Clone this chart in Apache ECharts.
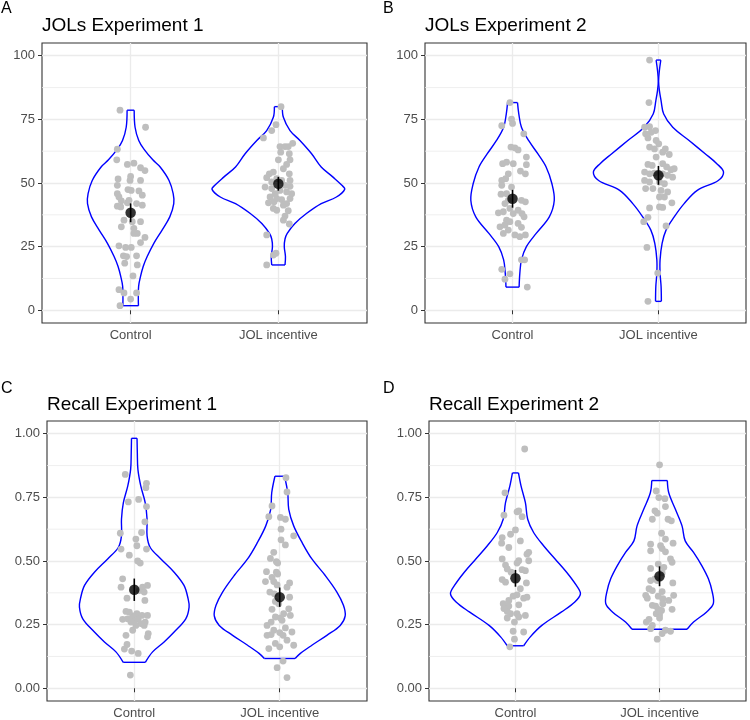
<!DOCTYPE html>
<html><head><meta charset="utf-8">
<script src="https://cdn.jsdelivr.net/npm/echarts@6/dist/echarts.min.js"></script>
<style>html,body{margin:0;padding:0;background:#fff}#c{width:750px;height:720px}</style>
</head><body><div id="c"></div>
<script>
// ---------- labels / ticks ----------
const categories = ['Control', 'JOL incentive'];
const panelLetters = ['A', 'B', 'C', 'D'];
const panelTitles = ['JOLs Experiment 1', 'JOLs Experiment 2', 'Recall Experiment 1', 'Recall Experiment 2'];
const jolTicks = [0, 25, 50, 75, 100];
const jolMinor = [12.5, 37.5, 62.5, 87.5];
const recallTicks = [0, 0.25, 0.5, 0.75, 1];
const recallMinor = [0.125, 0.375, 0.625, 0.875];

// ---------- individual observations (value) and horizontal jitter (category units) ----------
const aControlValues = [78.6,71.9,63.3,59.1,57.3,57.8,56.0,54.9,51.6,52.6,51.0,51.0,49.1,45.8,44.5,47.4,47.1,46.9,45.2,43.0,43.2,40.9,40.6,42.2,41.9,41.3,35.4,32.8,34.8,34.8,32.2,30.2,30.2,28.6,26.6,25.3,24.7,24.7,21.4,21.1,21.4,18.5,17.8,13.5,8.1,6.8,6.8,4.4,1.8];
const aControlJitter = [-0.072,0.101,-0.090,-0.094,-0.022,0.022,0.067,0.097,-0.085,0,-0.004,0.067,-0.090,-0.090,-0.079,-0.018,0.004,0.056,0.079,-0.063,-0.011,-0.090,-0.067,-0.022,0.040,0.079,-0.045,-0.063,0.011,0.067,0.022,0.045,0.022,0.097,0.067,-0.079,-0.034,0.004,-0.049,-0.027,0.040,-0.040,0.045,0.016,-0.079,-0.045,0.040,0,-0.072];
const aJolValues = [80.0,72.9,70.6,67.7,65.6,64.3,64.3,64.3,61.5,62.1,59.1,59.1,57.3,55.6,54.3,53.6,53.6,52.1,51.7,51.0,49.1,48.4,47.8,48.7,47.1,46.5,45.8,44.5,43.5,43.9,42.2,43.9,40.0,39.3,39.1,37.0,35.4,33.9,29.6,22.4,21.7,17.8,50.4,51.0,45.8,41.9,41.3,42.6];
const aJolJitter = [0.018,-0.016,-0.045,-0.101,0.097,0.011,0.045,0.067,0.074,0.016,0.079,0,0.056,0.034,-0.034,-0.061,0.074,-0.079,-0.011,0.079,0.045,-0.090,-0.045,0.079,0.011,0.056,0.090,-0.056,0.022,-0.011,-0.067,0.079,-0.034,-0.011,0.067,0.045,0.034,0.074,-0.079,-0.016,-0.034,-0.079,-0.045,0.022,-0.022,0.056,0.034,-0.029];
const bControlValues = [81.6,75.1,73.4,72.5,69.3,64.1,63.8,63.0,60.2,57.6,58.2,57.6,57.2,54.7,53.6,53.6,51.0,51.7,49.1,48.4,45.6,45.8,43.2,41.9,43.2,42.6,38.3,38.7,40.0,38.0,39.3,38.0,36.7,35.4,34.8,32.8,33.5,34.1,32.6,31.5,30.2,29.6,28.9,29.6,19.8,19.8,16.1,14.3,12.2,9.1];
const bControlJitter = [-0.018,-0.007,0,-0.074,0.077,-0.011,0.016,0.038,0.095,-0.068,-0.041,0.005,0.095,0.054,0.088,-0.029,-0.074,-0.047,-0.074,-0.007,-0.079,-0.041,-0.029,-0.052,0.061,0.088,-0.097,-0.063,-0.018,0.005,0.038,0.065,0.079,-0.041,-0.018,-0.086,-0.052,0.038,0.061,-0.029,-0.063,0.016,0.050,0.088,0.061,0.083,-0.074,-0.018,-0.052,0.101];
const bJolValues = [98.3,81.6,71.9,72.1,70.6,69.9,69.3,67.7,66.7,65.4,64.1,63.4,63.4,62.1,60.2,61.2,57.6,56.3,57.3,56.9,55.2,55.6,54.3,53.6,53.9,53.6,53.0,52.3,51.0,50.4,50.4,49.7,47.8,47.8,47.1,46.5,44.5,44.5,42.2,40.6,40.4,40.2,34.8,36.5,33.1,24.7,14.6,3.5];
const bJolJitter = [-0.061,-0.065,-0.095,-0.061,-0.020,-0.050,-0.088,-0.072,-0.016,0.002,-0.061,-0.027,0.047,0.029,-0.016,0.074,0.029,0.056,-0.072,-0.043,0.086,0.108,-0.095,-0.061,-0.027,0.029,0.063,0.097,-0.095,-0.061,0.007,0.041,-0.088,-0.038,0.018,0.063,0.007,0.041,0.092,0.007,0.029,-0.061,-0.101,-0.072,0.052,-0.079,-0.005,-0.072];
const cControlValues = [0.840,0.805,0.788,0.732,0.742,0.714,0.654,0.612,0.609,0.586,0.560,0.547,0.547,0.523,0.500,0.492,0.430,0.404,0.397,0.397,0.384,0.378,0.354,0.345,0.302,0.293,0.286,0.284,0.286,0.271,0.273,0.267,0.271,0.260,0.254,0.247,0.228,0.215,0.202,0.208,0.172,0.154,0.146,0.137,0.052,0.260,0.247,0.299];
const cControlJitter = [-0.062,0.084,0.080,-0.041,0.030,0.084,0.073,0.050,-0.096,0.011,0.018,-0.091,0.084,-0.034,0.023,0.041,-0.080,0.091,0.057,-0.091,0.034,0.068,-0.050,0.073,-0.057,0.018,0.053,-0.011,0.091,-0.080,-0.046,0,0.027,0.075,0.046,0.068,-0.011,0.096,0.091,-0.057,-0.050,-0.068,-0.018,0.027,-0.027,-0.023,0.011,-0.034];
const cJolValues = [0.827,0.771,0.716,0.674,0.671,0.664,0.625,0.599,0.563,0.583,0.534,0.510,0.497,0.492,0.458,0.456,0.449,0.436,0.419,0.419,0.414,0.397,0.406,0.378,0.371,0.358,0.341,0.332,0.310,0.312,0.293,0.286,0.280,0.276,0.247,0.260,0.267,0.237,0.228,0.219,0.208,0.211,0.208,0.221,0.189,0.169,0.176,0.163,0.156,0.107,0.081,0.042];
const cJolJitter = [0.043,0.050,-0.053,-0.075,0.005,0.039,0.009,0.096,0.039,0.009,-0.041,-0.064,-0.023,-0.014,-0.091,-0.023,-0.014,-0.053,-0.041,-0.098,0.068,0.050,-0.018,-0.068,-0.037,0.068,-0.030,-0.007,-0.053,0.062,0.027,0.073,-0.030,0.005,-0.087,-0.059,0.016,0.039,-0.041,0,-0.087,-0.059,0.023,0.084,0.050,0.096,-0.030,0,-0.075,0.023,-0.018,0.050];
const dControlValues = [0.940,0.768,0.680,0.697,0.693,0.674,0.622,0.605,0.592,0.579,0.570,0.553,0.534,0.527,0.508,0.501,0.492,0.501,0.484,0.469,0.466,0.462,0.456,0.414,0.427,0.417,0.391,0.367,0.362,0.354,0.358,0.345,0.332,0.326,0.323,0.328,0.313,0.302,0.293,0.293,0.280,0.276,0.286,0.260,0.224,0.221,0.193,0.163];
const dControlJitter = [0.064,-0.073,-0.080,0.023,0.011,0.046,0,-0.034,-0.092,0.034,-0.096,-0.046,0.092,0.080,-0.092,0.023,0.011,0.092,-0.069,-0.057,0.046,0.069,-0.030,0.076,-0.092,-0.069,0.034,0.011,-0.016,0.057,0.080,-0.046,-0.085,-0.069,-0.046,0.023,-0.080,-0.057,0.011,-0.034,0.023,-0.057,0.069,-0.007,-0.016,0.057,-0.007,-0.039];
const dJolValues = [0.878,0.775,0.749,0.745,0.714,0.697,0.688,0.664,0.664,0.658,0.609,0.586,0.570,0.566,0.560,0.549,0.540,0.536,0.508,0.495,0.488,0.471,0.475,0.453,0.430,0.423,0.423,0.414,0.391,0.384,0.380,0.365,0.354,0.365,0.362,0.352,0.345,0.326,0.323,0.332,0.310,0.306,0.310,0.293,0.289,0.271,0.260,0.276,0.247,0.234,0.228,0.224,0.215,0.193];
const dJolJitter = [0,-0.023,-0.005,0.037,0.041,-0.032,-0.016,-0.050,0.059,0.082,0.014,0.041,0.094,-0.062,0.007,0.018,-0.062,0.041,0.076,0.087,-0.009,-0.062,0.030,0.018,-0.032,-0.016,-0.062,0.092,-0.073,-0.050,0.018,-0.096,-0.085,0.098,-0.009,0.023,0.064,-0.050,-0.027,0.023,-0.009,0.014,0.087,-0.023,0,-0.073,-0.092,0,-0.050,-0.062,0.041,0.076,0.018,-0.016];

// ---------- group means and standard errors ----------
const meansA = [38.3, 49.7], seA = [3.7, 2.7];
const meansB = [43.8, 53.0], seB = [3.5, 3.7];
const meansC = [0.387, 0.358], seC = [0.044, 0.038];
const meansD = [0.432, 0.440], seD = [0.033, 0.039];

// ---------- violin outlines: [value, half-width in category units] ----------
const aControlViolin = [[1.8,0.053],[4.4,0.052],[9.4,0.054],[13.3,0.067],[17.2,0.085],[21.1,0.112],[26.3,0.157],[31.5,0.213],[36.7,0.265],[41.9,0.292],[45.8,0.288],[51,0.26],[56.3,0.2],[59.1,0.15],[63.3,0.09],[66.7,0.055],[71.9,0.03],[78.6,0.024]];
const aJolViolin = [[17.8,0.045],[21.1,0.048],[25,0.04],[28,0.045],[30.2,0.06],[34.1,0.112],[38,0.19],[41.9,0.29],[44.5,0.393],[47.5,0.449],[49.1,0.43],[52.3,0.37],[56.3,0.29],[61.5,0.225],[66.7,0.146],[70.6,0.079],[75.8,0.034],[80,0.027]];
const bControlViolin = [[9.1,0.045],[14.6,0.05],[19.8,0.061],[25,0.095],[30.2,0.162],[36.7,0.252],[43.2,0.286],[49.7,0.27],[56.3,0.23],[61.5,0.173],[66.7,0.11],[71.9,0.061],[77.1,0.043],[81.6,0.034]];
const bJolViolin = [[3.5,0.02],[9.4,0.018],[14.6,0.011],[19.8,0.011],[26.3,0.025],[31.5,0.052],[36.7,0.108],[41.9,0.176],[47.1,0.266],[51,0.41],[54.3,0.446],[57.6,0.4],[61.5,0.32],[66.7,0.21],[71.9,0.098],[77.1,0.036],[82.3,0.018],[86.5,0.006],[90,0.001],[94,0.006],[98.3,0.016]];
const cControlViolin = [[0.102,0.076],[0.143,0.126],[0.182,0.205],[0.221,0.274],[0.273,0.354],[0.319,0.377],[0.352,0.37],[0.404,0.342],[0.456,0.274],[0.508,0.183],[0.553,0.11],[0.599,0.088],[0.664,0.088],[0.729,0.075],[0.794,0.045],[0.86,0.025],[0.924,0.021],[0.982,0.019]];
const cJolViolin = [[0.117,0.106],[0.137,0.142],[0.169,0.221],[0.208,0.324],[0.247,0.416],[0.284,0.45],[0.326,0.438],[0.378,0.393],[0.443,0.313],[0.508,0.221],[0.573,0.153],[0.638,0.096],[0.703,0.062],[0.768,0.055],[0.833,0.033]];
const dControlViolin = [[0.167,0.057],[0.202,0.103],[0.247,0.183],[0.3,0.32],[0.339,0.412],[0.371,0.451],[0.404,0.423],[0.456,0.355],[0.508,0.275],[0.56,0.195],[0.612,0.126],[0.664,0.085],[0.729,0.069],[0.794,0.039],[0.846,0.021]];
const dJolViolin = [[0.232,0.191],[0.26,0.236],[0.3,0.327],[0.332,0.373],[0.378,0.366],[0.43,0.339],[0.482,0.293],[0.534,0.236],[0.579,0.178],[0.638,0.156],[0.703,0.11],[0.768,0.064],[0.816,0.054]];

// ---------- assembly ----------
const FONT = 'Liberation Sans, Arial, Helvetica, sans-serif';
const panels = [
  {grid:{left:42, top:43, width:325, height:280}, y:[-5,105], ticks:jolTicks, minor:jolMinor, fmt:v=>String(v),
   values:[aControlValues,aJolValues], jitter:[aControlJitter,aJolJitter], violins:[aControlViolin,aJolViolin], means:meansA, se:seA,
   letter:{left:1, top:1}, title:{left:42, top:16}},
  {grid:{left:425, top:43, width:321, height:280}, y:[-5,105], ticks:jolTicks, minor:jolMinor, fmt:v=>String(v),
   values:[bControlValues,bJolValues], jitter:[bControlJitter,bJolJitter], violins:[bControlViolin,bJolViolin], means:meansB, se:seB,
   letter:{left:383, top:1}, title:{left:425, top:16}},
  {grid:{left:47, top:421, width:320, height:281}, y:[-0.05,1.05], ticks:recallTicks, minor:recallMinor, fmt:v=>v.toFixed(2),
   values:[cControlValues,cJolValues], jitter:[cControlJitter,cJolJitter], violins:[cControlViolin,cJolViolin], means:meansC, se:seC,
   letter:{left:1, top:381}, title:{left:47, top:395}},
  {grid:{left:429, top:421, width:317, height:281}, y:[-0.05,1.05], ticks:recallTicks, minor:recallMinor, fmt:v=>v.toFixed(2),
   values:[dControlValues,dJolValues], jitter:[dControlJitter,dJolJitter], violins:[dControlViolin,dJolViolin], means:meansD, se:seD,
   letter:{left:383, top:381}, title:{left:429, top:395}}
];
const X_MIN = 0.4, X_MAX = 2.6;
const catPos = [1, 2];

const option = {
  backgroundColor:'#fff', animation:false,
  title:[], grid:[], xAxis:[], yAxis:[], series:[]
};

panels.forEach((p, gi) => {
  option.title.push({text:panelLetters[gi], left:p.letter.left, top:p.letter.top, padding:0,
    textStyle:{fontFamily:FONT, fontSize:16, fontWeight:'normal', color:'#000'}});
  option.title.push({text:panelTitles[gi], left:p.title.left, top:p.title.top, padding:0,
    textStyle:{fontFamily:FONT, fontSize:19, fontWeight:'normal', color:'#000'}});
  option.grid.push(Object.assign({show:true, borderColor:'#333333', borderWidth:1.1, backgroundColor:'#fff', containLabel:false}, p.grid));
  option.xAxis.push({type:'value', gridIndex:gi, min:X_MIN, max:X_MAX,
    axisLine:{show:false},
    axisTick:{show:true, customValues:catPos, length:4, lineStyle:{color:'#333333', width:1}},
    axisLabel:{show:true, customValues:catPos, margin:6, fontFamily:FONT, fontSize:13, color:'#4d4d4d',
      formatter:v => categories[Math.round(v) - 1]},
    splitLine:{show:true, lineStyle:{color:'#ebebeb', width:1.3}}});
  option.yAxis.push({type:'value', gridIndex:gi, min:p.y[0], max:p.y[1],
    axisLine:{show:false},
    axisTick:{show:true, customValues:p.ticks, length:4, lineStyle:{color:'#333333', width:1}},
    axisLabel:{show:true, customValues:p.ticks, margin:7, fontFamily:FONT, fontSize:13, color:'#4d4d4d', formatter:p.fmt},
    splitLine:{show:true, lineStyle:{color:'#ebebeb', width:1.3}}});

  // minor horizontal grid lines
  option.series.push({type:'custom', xAxisIndex:gi, yAxisIndex:gi, silent:true, z:1,
    data:p.minor.map(v => [v]),
    renderItem:(params, api) => {
      const v = api.value(0);
      const a = api.coord([X_MIN, v]), b = api.coord([X_MAX, v]);
      return {type:'line', shape:{x1:a[0], y1:a[1], x2:b[0], y2:b[1]}, style:{stroke:'#ebebeb', lineWidth:0.8}};
    }});

  // violins
  p.violins.forEach((prof, ci) => {
    option.series.push({type:'custom', xAxisIndex:gi, yAxisIndex:gi, silent:true, z:2,
      data:[[catPos[ci]]],
      renderItem:(params, api) => {
        const x0 = api.value(0);
        const right = prof.map(q => api.coord([x0 + q[1], q[0]]));
        const left = prof.map(q => api.coord([x0 - q[1], q[0]]));
        const n = prof.length;
        const st = {stroke:'#0000ff', lineWidth:1.4, fill:'none'};
        return {type:'group', children:[
          {type:'polyline', shape:{points:right, smooth:0.35}, style:st},
          {type:'polyline', shape:{points:left, smooth:0.35}, style:st},
          {type:'line', shape:{x1:left[0][0], y1:left[0][1], x2:right[0][0], y2:right[0][1]}, style:st},
          {type:'line', shape:{x1:left[n-1][0], y1:left[n-1][1], x2:right[n-1][0], y2:right[n-1][1]}, style:st}
        ]};
      }});
  });

  // jittered observations
  p.values.forEach((vals, ci) => {
    option.series.push({type:'scatter', xAxisIndex:gi, yAxisIndex:gi, silent:true, z:3,
      symbolSize:6.8, itemStyle:{color:'#bebebe', opacity:1},
      data:vals.map((v, i) => [catPos[ci] + p.jitter[ci][i], v])});
  });

  // error bars (mean ± SE)
  option.series.push({type:'custom', xAxisIndex:gi, yAxisIndex:gi, silent:true, z:4,
    data:p.means.map((m, ci) => [catPos[ci], m - p.se[ci], m + p.se[ci]]),
    renderItem:(params, api) => {
      const a = api.coord([api.value(0), api.value(1)]), b = api.coord([api.value(0), api.value(2)]);
      return {type:'line', shape:{x1:a[0], y1:a[1], x2:b[0], y2:b[1]}, style:{stroke:'#000', lineWidth:1.6}};
    }});
  // means
  option.series.push({type:'scatter', xAxisIndex:gi, yAxisIndex:gi, silent:true, z:5,
    symbolSize:10.5, itemStyle:{color:'#000'},
    data:p.means.map((m, ci) => [catPos[ci], m])});
});

const chart = echarts.init(document.getElementById('c'), null, {renderer:'canvas'});
chart.setOption(option);
</script>
</body></html>
